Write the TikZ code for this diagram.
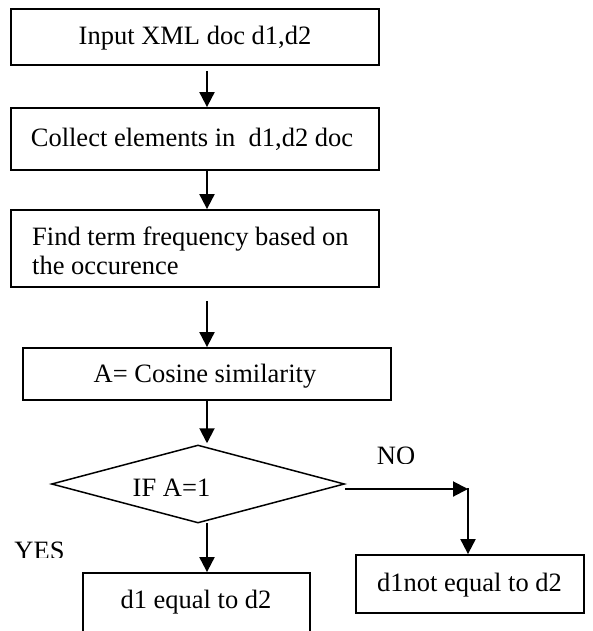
\documentclass[tikz,border=0pt]{standalone}
\usepackage{fontspec}
\setmainfont{Liberation Serif}
\usetikzlibrary{arrows.meta,calc,shapes.geometric}
\tikzset{
  boxnode/.style={draw, line width=1.8pt, rectangle, inner sep=0pt},
  dianode/.style={draw, line width=1.5pt, diamond, inner sep=0pt},
  txt/.style={font=\fontsize{26.5}{31}\selectfont, inner sep=0pt, anchor=base},
  arr/.style={line width=2pt, -{Triangle[width=15pt,length=15pt]}},
}
\begin{document}
\begin{tikzpicture}[x=1pt,y=-1pt]
\clip (0,0) rectangle (592,631);
\fill[white] (0,0) rectangle (592,631);
% boxes
\node[boxnode, minimum width=368, minimum height=56] (b1) at (195,37) {};
\node[boxnode, minimum width=368, minimum height=62] (b2) at (195,139) {};
\node[boxnode, minimum width=368, minimum height=77] (b3) at (195,248.5) {};
\node[boxnode, minimum width=368, minimum height=52] (b4) at (207,374) {};
\node[dianode, minimum width=293, minimum height=78] (dia) at (198,484) {};
\node[boxnode, minimum width=227, minimum height=90] (b5) at (196.5,618) {};
\node[boxnode, minimum width=228, minimum height=58] (b6) at (470,584) {};
% texts
\node[txt] (t1) at (195,45) {Input XML doc d1,d2};
\node[txt] (t2) at (192,147) {Collect elements in\ \ d1,d2 doc};
\node[txt, anchor=base west] (t3a) at (32,245) {Find term frequency based on};
\node[txt, anchor=base west] (t3b) at (32,274) {the occurence};
\node[txt] (t4) at (205,382) {A= Cosine similarity};
\node[txt] (t5) at (171.5,496) {IF A=1};
\node[txt] (t6) at (196,608) {d1 equal to d2};
\node[txt] (t7) at (469.5,591) {d1not equal to d2};
\begin{scope}
  \clip (300,440) rectangle (480,463);
  \node[txt] (lno) at (396,464.5) {NO};
\end{scope}
\begin{scope}
  \clip (0,530) rectangle (100,557);
  \node[txt] (lyes) at (39.5,559.5) {YES};
\end{scope}
% connectors
\coordinate (ax) at (207,0);
\coordinate (nc) at (468,489);
\draw[arr] ($(b1.south -| ax)+(0,5)$) -- (b2.north -| ax);
\draw[arr] (b2.south -| ax) -- (b3.north -| ax);
\draw[arr] ($(b3.south -| ax)+(0,13)$) -- (b4.north -| ax);
\draw[arr] (b4.south -| ax) -- ($(dia.north -| ax)+(0,-1)$);
\draw[arr] ($(dia.south -| ax)+(0,-1)$) -- (b5.north -| ax);
\draw[arr] ($(dia.east)+(0,5)$) -- (nc);
\draw[arr] ($(nc)+(0,-1)$) -- (b6.north -| nc);
\end{tikzpicture}
\end{document}
